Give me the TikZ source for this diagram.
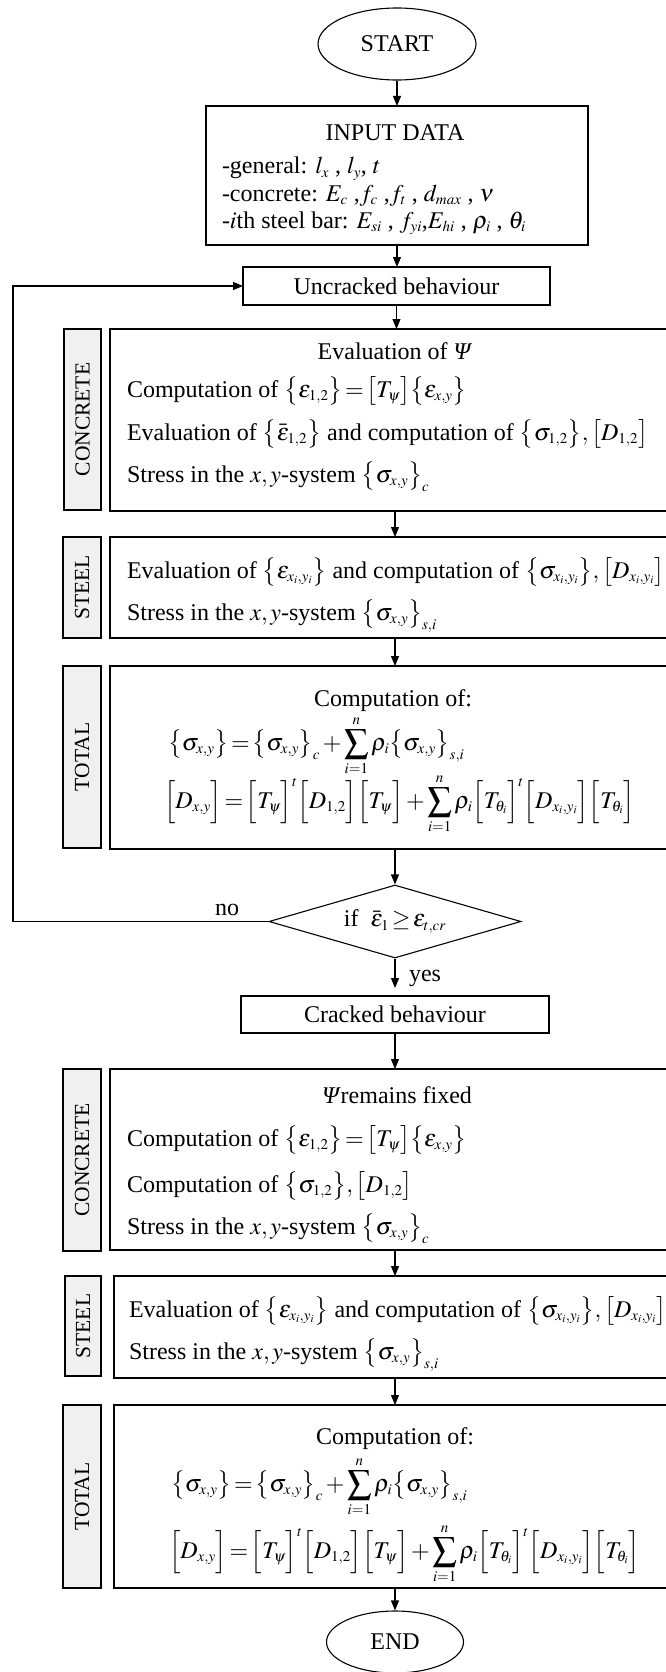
\documentclass[tikz,border=0pt]{standalone}
\usepackage{mathptmx}
\usepackage[no-math]{fontspec}
\setmainfont{Liberation Serif}
\usetikzlibrary{arrows.meta,shapes.geometric}
\DeclareMathSizes{24}{24}{15}{11}
\thickmuskip=2mu
\medmuskip=2mu
\newcommand\fsz{\fontsize{24}{28}\selectfont}
\newcommand\lfs{\fontsize{21.5}{24}\selectfont}
\newcommand\Psit{\textit{Ψ}}
\newcommand\strA{\rule[-9pt]{0pt}{30pt}}
\newcommand\strB{\rule[-12pt]{0pt}{36pt}}
\newcommand\cb[1]{{\left\{\strA#1\right\}}}
\newcommand\sqb[1]{{\left[\strA#1\right]}}
\newcommand\sqbB[1]{{\left[\strB#1\right]}}
\tikzset{
  arr/.style={line width=1.1pt, -{Triangle[length=10pt,width=8pt]}},
  mbox/.style={draw, line width=1.1pt, rectangle, inner sep=0pt, outer sep=0pt, anchor=north west, minimum width=620pt},
  lab/.style={draw, line width=1.1pt, fill=gray!12, rectangle, inner sep=0pt, outer sep=0pt, anchor=north west},
  labtxt/.style={rotate=90, inner sep=0pt, font=\lfs},
  sbox/.style={draw, line width=1.1pt, rectangle, inner sep=0pt, outer sep=0pt, font=\fsz},
  txt/.style={inner sep=0pt, outer sep=0pt, font=\fsz, anchor=base west},
  ctxt/.style={inner sep=0pt, outer sep=0pt, font=\fsz, anchor=base},
  term/.style={draw, ellipse, line width=1.1pt, inner sep=0pt, font=\fsz},
}
\begin{document}
\begin{tikzpicture}[x=1pt,y=-1pt]
\path[use as bounding box] (0,0) rectangle (666,1672);
\clip (0,0) rectangle (666,1672);
\coordinate (spine) at (395,0);
\coordinate (lx) at (13,0);
% start / input / uncracked
\node[term, minimum width=158pt, minimum height=72pt] (start) at (397,44) {START};
\node[sbox, anchor=north west, minimum width=382pt, minimum height=139pt] (input) at (206,106) {};
\node[ctxt] (inT) at (395,141) {INPUT DATA};
\node[txt] (in1) at (222,174) {-general: $l_x$ , $l_y$, $t$};
\node[txt] (in2) at (222,201) {-concrete: $E_c$ ,$f_c$ ,$f_t$ , $d_{max}$ , $\nu$};
\node[txt] (in3) at (222,228) {-$i$th steel bar: $E_{si}$ , $f_{yi}$,$E_{hi}$ , $\rho_i$ , $\theta_i$};
\node[sbox, minimum width=307pt, minimum height=38pt] (unc) at (396.5,286) {Uncracked behaviour};
% uncracked concrete
\node[lab, minimum width=37pt, minimum height=181pt] (lc1) at (64,329) {};
\node[labtxt] (lc1t) at (lc1.center) {CONCRETE};
\node[mbox, minimum height=182pt] (conc1) at (110,329) {};
\node[ctxt] (c1a) at (395,359) {Evaluation of \Psit};
\node[txt] (c1b) at (127,397) {Computation of $\cb{\varepsilon_{1,2}}=\sqb{T_\psi}\cb{\varepsilon_{x,y}}$};
\node[txt] (c1c) at (127,440) {Evaluation of $\cb{\bar{\varepsilon}_{1,2}}$ and computation of $\cb{\sigma_{1,2}},\sqb{D_{1,2}}$};
\node[txt] (c1d) at (127,482) {Stress in the $x,y$-system $\cb{\sigma_{x,y}}_c$};
% uncracked steel
\node[lab, minimum width=38pt, minimum height=101pt] (ls1) at (63,537) {};
\node[labtxt] (ls1t) at (ls1.center) {STEEL};
\node[mbox, minimum height=101pt] (steel1) at (110,537) {};
\node[txt] (s1a) at (127,578) {Evaluation of $\cb{\varepsilon_{x_i,y_i}}$ and computation of $\cb{\sigma_{x_i,y_i}},\sqb{D_{x_i,y_i}}$};
\node[txt] (s1b) at (127,620) {Stress in the $x,y$-system $\cb{\sigma_{x,y}}_{s,i}$};
% uncracked total
\node[lab, minimum width=38pt, minimum height=182pt] (lt1) at (63,666) {};
\node[labtxt] (lt1t) at (lt1.center) {TOTAL};
\node[mbox, minimum height=183pt] (total1) at (110,666) {};
\node[ctxt] (t1a) at (393,706) {Computation of:};
\node[txt] (t1b) at (168,750) {$\displaystyle\cb{\sigma_{x,y}}=\cb{\sigma_{x,y}}_c+\sum_{i=1}^{n}\rho_i\cb{\sigma_{x,y}}_{s,i}$};
\node[txt] (t1c) at (164,808) {$\displaystyle\sqbB{D_{x,y}}=\sqbB{T_\psi}^t\sqbB{D_{1,2}}\sqbB{T_\psi}+\sum_{i=1}^{n}\rho_i\sqbB{T_{\theta_i}}^t\sqbB{D_{x_i,y_i}}\sqbB{T_{\theta_i}}$};
% decision
\node[draw, diamond, aspect=3.45, line width=1.1pt, minimum width=252pt, minimum height=73pt, inner sep=0pt, font=\fsz] (dia) at (395,921.5) {if~~$\bar{\varepsilon}_1\geq\varepsilon_{t,cr}$};
\node[txt] (no) at (215,915) {no};
\node[txt] (yes) at (409,981) {yes};
\node[sbox, minimum width=308pt, minimum height=37pt] (crk) at (395,1014.5) {Cracked behaviour};
% cracked concrete
\node[lab, minimum width=38pt, minimum height=182pt] (lc2) at (63,1069) {};
\node[labtxt] (lc2t) at (lc2.center) {CONCRETE};
\node[mbox, minimum height=181pt] (conc2) at (110,1069) {};
\node[ctxt] (c2a) at (397,1103) {\Psit remains fixed};
\node[txt] (c2b) at (127,1146) {Computation of $\cb{\varepsilon_{1,2}}=\sqb{T_\psi}\cb{\varepsilon_{x,y}}$};
\node[txt] (c2c) at (127,1192) {Computation of $\cb{\sigma_{1,2}},\sqb{D_{1,2}}$};
\node[txt] (c2d) at (127,1234) {Stress in the $x,y$-system $\cb{\sigma_{x,y}}_c$};
% cracked steel
\node[lab, minimum width=36pt, minimum height=100pt] (ls2) at (65,1276) {};
\node[labtxt] (ls2t) at (ls2.center) {STEEL};
\node[mbox, minimum height=102pt] (steel2) at (114,1276) {};
\node[txt] (s2a) at (129,1317) {Evaluation of $\cb{\varepsilon_{x_i,y_i}}$ and computation of $\cb{\sigma_{x_i,y_i}},\sqb{D_{x_i,y_i}}$};
\node[txt] (s2b) at (129,1359) {Stress in the $x,y$-system $\cb{\sigma_{x,y}}_{s,i}$};
% cracked total
\node[lab, minimum width=38pt, minimum height=183pt] (lt2) at (63,1405) {};
\node[labtxt] (lt2t) at (lt2.center) {TOTAL};
\node[mbox, minimum height=183pt] (total2) at (114,1405) {};
\node[ctxt] (t2a) at (395,1444) {Computation of:};
\node[txt] (t2b) at (171,1491) {$\displaystyle\cb{\sigma_{x,y}}=\cb{\sigma_{x,y}}_c+\sum_{i=1}^{n}\rho_i\cb{\sigma_{x,y}}_{s,i}$};
\node[txt] (t2c) at (169,1558) {$\displaystyle\sqbB{D_{x,y}}=\sqbB{T_\psi}^t\sqbB{D_{1,2}}\sqbB{T_\psi}+\sum_{i=1}^{n}\rho_i\sqbB{T_{\theta_i}}^t\sqbB{D_{x_i,y_i}}\sqbB{T_{\theta_i}}$};
\node[term, minimum width=137pt, minimum height=62pt] (fin) at (395,1642) {END};
% connectors
\draw[arr] (start.south) -- (input.north -| start.south);
\draw[arr] (input.south -| start.south) -- (unc.north -| start.south);
\draw[arr] (unc.south) -- (unc.south |- conc1.north);
\draw[arr] (spine |- conc1.south) -- (spine |- steel1.north);
\draw[arr] (spine |- steel1.south) -- (spine |- total1.north);
\draw[arr] (spine |- total1.south) -- (dia.north);
\draw[arr] (dia.west) -- (dia.west -| lx) |- (unc.west);
\draw[arr, shorten >=8pt] (dia.south) -- (crk.north);
\draw[arr] (crk.south) -- (crk.south |- conc2.north);
\draw[arr] (spine |- conc2.south) -- (spine |- steel2.north);
\draw[arr] (spine |- steel2.south) -- (spine |- total2.north);
\draw[arr] (spine |- total2.south) -- (fin.north);
\end{tikzpicture}
\end{document}
